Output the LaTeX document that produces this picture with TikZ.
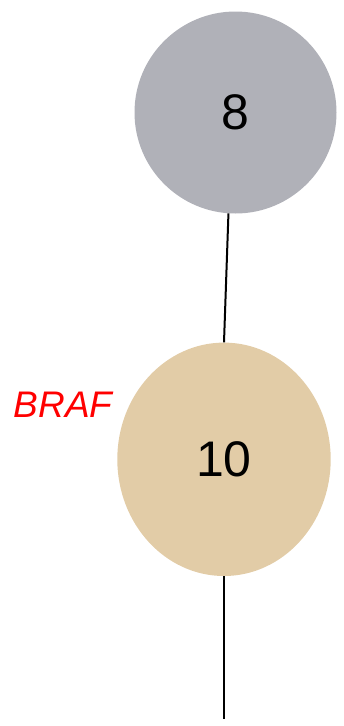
\documentclass[tikz,border=0pt]{standalone}
\usepackage{fontspec}
\setmainfont{Liberation Sans}
\usetikzlibrary{shapes.geometric}
\definecolor{greyfill}{HTML}{B0B1B8}
\definecolor{tanfill}{HTML}{E2CCA7}
\begin{document}
\begin{tikzpicture}[x=1pt,y=-1pt,
  blob/.style={ellipse, inner sep=0pt, draw=none, font=\fontsize{50}{50}\selectfont},
  link/.style={line width=2pt, black}]
\useasboundingbox (0,0) rectangle (343,726);
\node[blob, fill=greyfill, minimum width=202pt, minimum height=202pt] (a) at (235.5,112.5) {8};
\node[blob, fill=tanfill, minimum width=213.4pt, minimum height=233.4pt] (b) at (224,459.3) {10};
\coordinate (bb) at (b.-90.7);
\coordinate (end) at (bb |- 0,719);
\draw[link] (a.-94.8) -- (b.90.5);
\draw[link] (bb) -- (end);
\node[text=red, font=\itshape\fontsize{37}{37}\selectfont] (lab) at (63,405) {BRAF};
\end{tikzpicture}
\end{document}
